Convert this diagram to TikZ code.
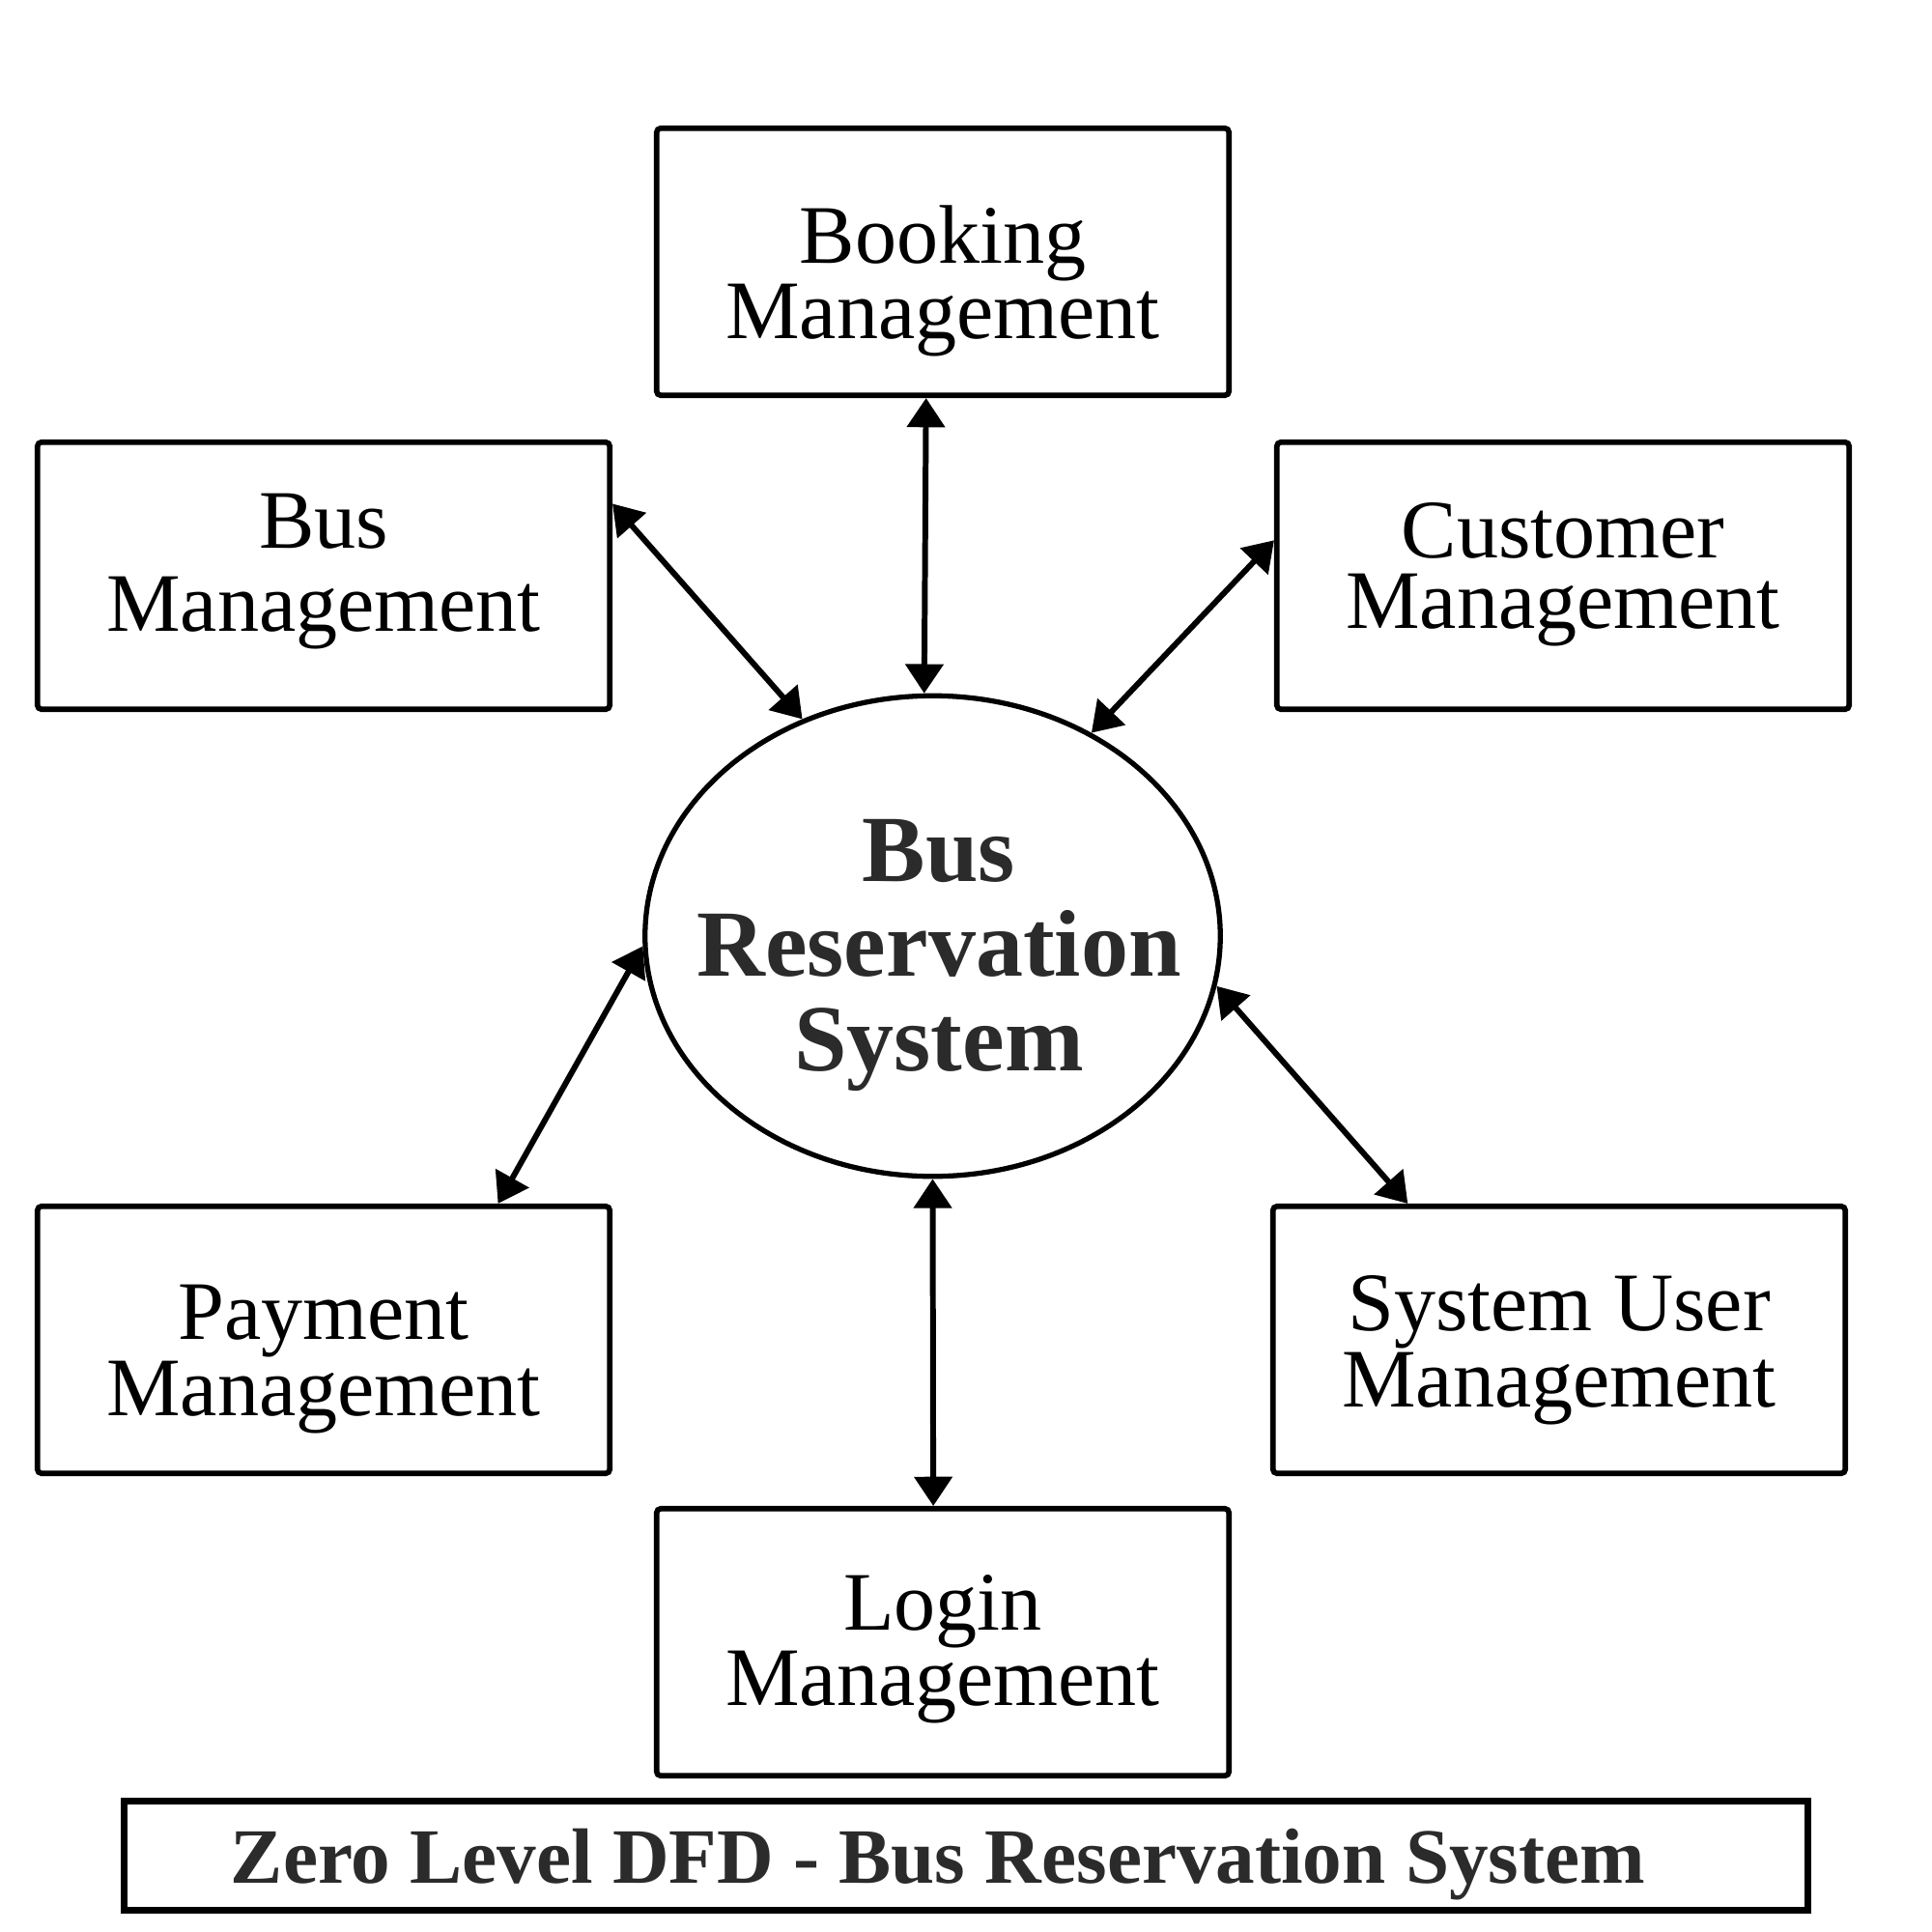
\documentclass[tikz,border=0pt]{standalone}
\usepackage{fontspec}
\setmainfont{Liberation Serif}
\usetikzlibrary{arrows.meta,shapes}
\definecolor{inkgray}{HTML}{2B2B2B}
\tikzstyle{process}=[draw,line width=1.6pt,rounded corners=1.2pt,minimum width=5.925cm,minimum height=2.765cm,inner sep=0pt]
\tikzstyle{proctext}=[align=center,inner sep=0pt,font=\fontsize{24.5}{20.7}\selectfont]
\tikzstyle{centre}=[ellipse,draw,line width=1.5pt,minimum width=5.955cm,minimum height=4.975cm,inner sep=0pt]
\tikzstyle{centretext}=[align=center,inner sep=0pt,text=inkgray,font=\fontsize{27.9}{27.9}\selectfont\bfseries]
\tikzstyle{flow} = [draw,line width=1.7pt,{Triangle[length=8.6pt,width=11pt]}-{Triangle[length=8.6pt,width=11pt]}]
\tikzstyle{titlebox}=[draw,line width=2pt,minimum width=17.43cm,minimum height=1.13cm,inner sep=0pt]
\tikzstyle{titletext}=[inner sep=0pt,text=inkgray,font=\fontsize{23.1}{23.1}\selectfont\bfseries]

\begin{document}
\begin{tikzpicture}

    \useasboundingbox (0,0) rectangle (20,-20);

     \foreach \x/\y/\name/\dy/\txt in {9.76/-2.71/booking/-0.20/{Booking\\Management}, 3.35/-5.96/bus/0.04/{Bus\\[3.8pt]Management}, 16.18/-5.96/customer/0.01/{Customer\\Management}, 3.35/-13.87/payment/-0.20/{Payment\\Management}, 16.14/-13.87/sysuser/-0.11/{System User\\Management}, 9.76/-17.00/login/-0.075/{Login\\Management}}
     {
        \node[process] (\name) at (\x,\y) {};
        \node[proctext] (t\name) at ([yshift=\dy cm]\name.center) {\txt};
     }

    \node[centre] (brs) at (9.655,-9.69) {};
    \node[centretext] (tbrs) at (9.72,-9.89) {Bus\\Reservation\\System};

    \foreach \source/\sa/\dest/\da in {booking/263.6/brs/92, bus/14.4/brs/121.2, customer/173.3/brs/52, payment/38.9/brs/182.5, sysuser/138.9/brs/350.7, login/94.8/brs/270}
        \path[flow] (\source.\sa) -- (\dest.\da);

    \node[titlebox] (zld) at (10.0,-19.21) {};
    \node[titletext] (tzld) at (9.71,-19.30) {Zero Level DFD - Bus Reservation System};

\end{tikzpicture}
\end{document}
